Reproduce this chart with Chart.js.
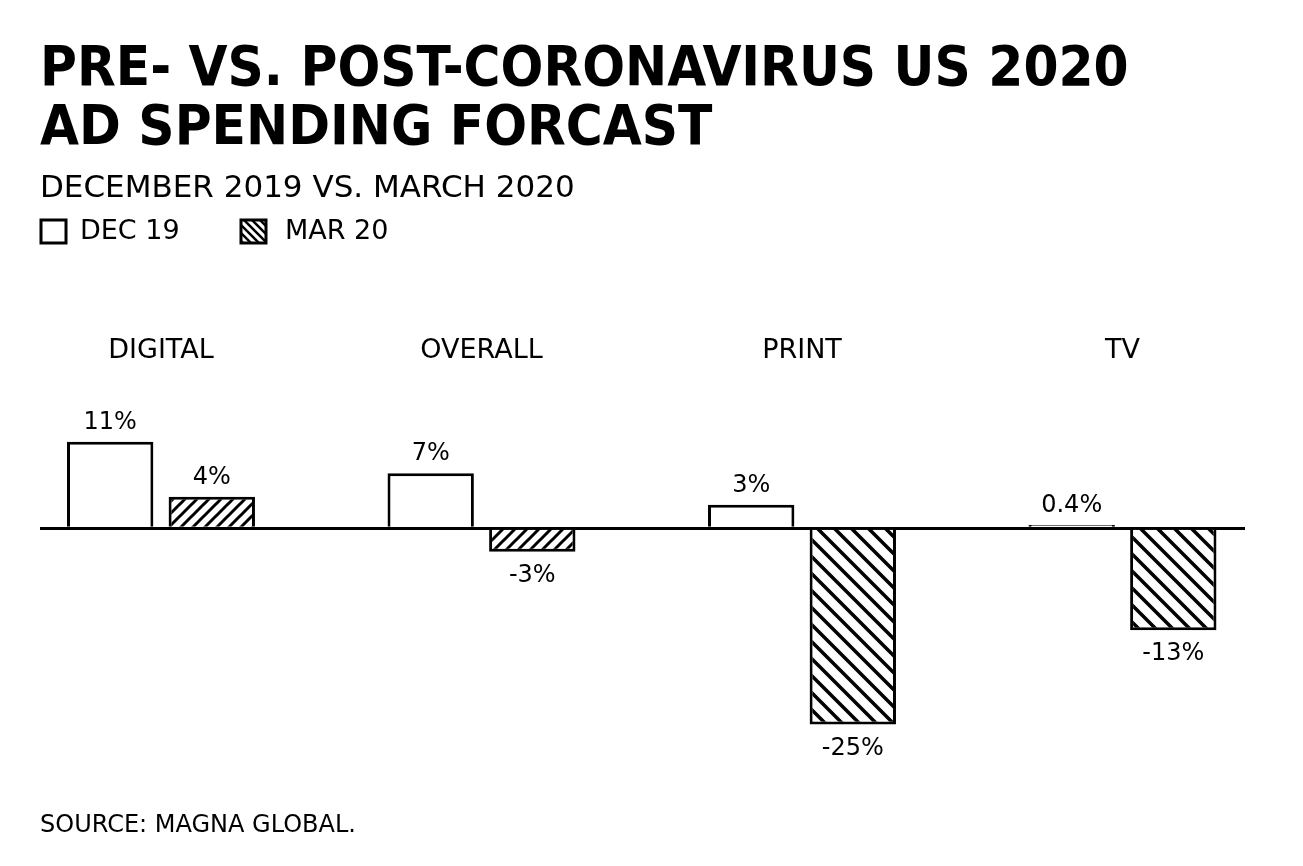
<!DOCTYPE html>
<html>
<head>
<meta charset="utf-8">
<title>Pre- vs. post-coronavirus US 2020 ad spending forcast</title>
<script src="https://cdn.jsdelivr.net/npm/chart.js@4"></script>
<style>
  html, body { margin: 0; padding: 0; background: #fff; }
  #wrap { width: 1303px; height: 866px; }
</style>
</head>
<body>
<div id="wrap"><canvas id="adChart" width="1303" height="866"></canvas></div>
<script>
// Data
var categories = ['DIGITAL', 'OVERALL', 'PRINT', 'TV'];
var dec19 = [11, 7, 3, 0.4];
var mar20 = [4, -3, -25, -13];
var seriesNames = ['DEC 19', 'MAR 20'];

var TITLE_FONT = '"DejaVu Sans Condensed", "Liberation Sans Narrow", "DejaVu Sans", sans-serif';
var FONT = '"DejaVu Sans", sans-serif';

// Hatch fill, '/' or '\'
function makeHatch(dir, size, lw) {
    var c = document.createElement('canvas');
    c.width = size; c.height = size;
    var g = c.getContext('2d');
    g.fillStyle = '#fff';
    g.fillRect(0, 0, size, size);
    g.strokeStyle = '#000';
    g.lineWidth = lw;
    g.lineCap = 'square';
    for (var k = -size; k <= size; k += size) {
        g.beginPath();
        if (dir === '/') {
            g.moveTo(k - 2, size + 2); g.lineTo(k + size + 2, -2);
        } else {
            g.moveTo(k - 2, -2); g.lineTo(k + size + 2, size + 2);
        }
        g.stroke();
    }
    return g.createPattern(c, 'repeat');
}

var ctx = document.getElementById('adChart').getContext('2d');
var hatchFwd = makeHatch('/', 12, 3);
var hatchBack = makeHatch('\\', 17, 3.5);
var hatchLegend = makeHatch('\\', 8, 2.5);
var mar20Fill = [hatchFwd, hatchFwd, hatchBack, hatchBack];

// Value labels above / below the bars
var valueLabels = {
    id: 'valueLabels',
    afterDatasetsDraw: function (chart) {
        var c = chart.ctx;
        c.save();
        c.font = '24px ' + FONT;
        c.fillStyle = '#000';
        c.textAlign = 'center';
        chart.data.datasets.forEach(function (ds, di) {
            chart.getDatasetMeta(di).data.forEach(function (bar, i) {
                var v = ds.data[i].y;
                if (v >= 0) {
                    c.textBaseline = 'bottom';
                    c.fillText(v + '%', bar.x, bar.y - 7);
                } else {
                    c.textBaseline = 'top';
                    c.fillText(v + '%', bar.x, bar.y + 12);
                }
            });
        });
        c.restore();
    }
};

// Legend under the subtitle and the source line
var extras = {
    id: 'extras',
    afterDraw: function (chart) {
        var c = chart.ctx;
        var left = chart.chartArea.left;
        c.save();
        c.font = '27px ' + FONT;
        c.textBaseline = 'middle';
        c.lineWidth = 3;
        c.strokeStyle = '#000';
        // Dec 19
        c.fillStyle = '#fff';
        c.fillRect(left + 1, 220, 25, 23);
        c.strokeRect(left + 1, 220, 25, 23);
        c.fillStyle = '#000';
        c.fillText(seriesNames[0], left + 40, 232);
        // Mar 20
        c.fillStyle = hatchLegend;
        c.fillRect(left + 201, 220, 25, 23);
        c.strokeRect(left + 201, 220, 25, 23);
        c.fillStyle = '#000';
        c.fillText(seriesNames[1], left + 245, 232);
        // source
        c.font = '24px ' + FONT;
        c.fillText('SOURCE: MAGNA GLOBAL.', left, 826);
        c.restore();
    }
};

var chart = new Chart(ctx, {
    type: 'bar',
    data: {
        datasets: [{
            label: seriesNames[0],
            data: dec19.map(function (v, i) { return { x: i, y: v }; }),
            backgroundColor: '#fff',
            borderColor: '#000',
            borderWidth: 3,
            borderSkipped: 'start'
        }, {
            label: seriesNames[1],
            data: mar20.map(function (v, i) { return { x: i, y: v }; }),
            backgroundColor: mar20Fill,
            borderColor: '#000',
            borderWidth: 3,
            borderSkipped: 'start'
        }]
    },
    options: {
        responsive: false,
        animation: false,
        categoryPercentage: 0.634,
        barPercentage: 0.85,
        layout: { padding: { left: 40, right: 58, top: 0, bottom: 118 } },
        plugins: {
            legend: { display: false },
            tooltip: { enabled: false },
            title: {
                display: true,
                align: 'start',
                text: ['PRE- VS. POST-CORONAVIRUS US 2020', 'AD SPENDING FORCAST'],
                color: '#000',
                font: { family: TITLE_FONT, size: 56, weight: 'bold', lineHeight: 1.07 },
                padding: { top: 40, bottom: 11 }
            },
            subtitle: {
                display: true,
                align: 'start',
                text: 'DECEMBER 2019 VS. MARCH 2020',
                color: '#000',
                font: { family: FONT, size: 31, lineHeight: 1.2 },
                padding: { top: 0, bottom: 84 }
            }
        },
        scales: {
            x: {
                type: 'linear',
                position: 'top',
                offset: false,
                bounds: 'data',
                afterBuildTicks: function (s) {
                    s.ticks = categories.map(function (c, i) { return { value: i }; });
                    s.min = -0.3775;
                    s.max = 3.3822;
                },
                ticks: {
                    color: '#000',
                    font: { family: FONT, size: 27 },
                    padding: 43,
                    autoSkip: false,
                    maxRotation: 0,
                    callback: function (v) { return categories[v]; }
                },
                grid: { display: false, drawTicks: false },
                border: { display: false }
            },
            y: {
                bounds: 'data',
                afterBuildTicks: function (s) {
                    s.ticks = [{ value: 0 }];
                    s.min = -28;
                    s.max = 15;
                },
                ticks: { display: false },
                grid: {
                    drawTicks: false,
                    color: function (c) { return c.tick && c.tick.value === 0 ? '#000' : 'rgba(0,0,0,0)'; },
                    lineWidth: 3
                },
                border: { display: false }
            }
        }
    },
    plugins: [valueLabels, extras]
});
</script>
</body>
</html>
